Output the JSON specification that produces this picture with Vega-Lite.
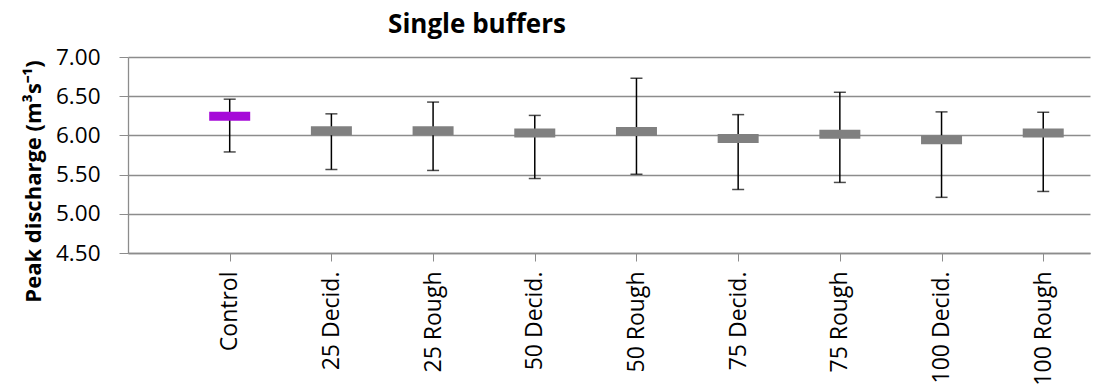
{
  "$schema": "https://vega.github.io/schema/vega-lite/v6.json",
  "autosize": "none",
  "width": 962,
  "height": 196,
  "padding": {"left": 128, "top": 57, "right": 9, "bottom": 132},
  "background": "white",
  "title": {
    "text": "Single buffers",
    "font": "Open Sans",
    "fontSize": 26,
    "fontWeight": "bold",
    "color": "black",
    "anchor": "middle",
    "dx": -132,
    "offset": 8
  },
  "data": {
    "values": [
      {"treatment": "Control", "mean": 6.245, "low": 5.789, "high": 6.462},
      {"treatment": "25 Decid.", "mean": 6.06, "low": 5.565, "high": 6.275},
      {"treatment": "25 Rough", "mean": 6.06, "low": 5.553, "high": 6.425},
      {"treatment": "50 Decid.", "mean": 6.03, "low": 5.45, "high": 6.255},
      {"treatment": "50 Rough", "mean": 6.05, "low": 5.505, "high": 6.73},
      {"treatment": "75 Decid.", "mean": 5.96, "low": 5.31, "high": 6.265},
      {"treatment": "75 Rough", "mean": 6.015, "low": 5.4, "high": 6.55},
      {"treatment": "100 Decid.", "mean": 5.945, "low": 5.21, "high": 6.3},
      {"treatment": "100 Rough", "mean": 6.03, "low": 5.285, "high": 6.295}
    ]
  },
  "encoding": {
    "x": {
      "field": "treatment",
      "type": "nominal",
      "sort": null,
      "scale": {"type": "point", "padding": 0.73, "align": 0.685},
      "axis": {
        "title": null,
        "labelAngle": -90,
        "labelAlign": "right",
        "labelBaseline": "middle",
        "labelFont": "Open Sans",
        "labelFontSize": 23,
        "labelColor": "black",
        "labelPadding": 10,
        "labelOverlap": false,
        "tickSize": 8,
        "tickColor": "#8c8c8c",
        "domainColor": "#8c8c8c",
        "domainWidth": 1.3,
        "grid": false
      }
    },
    "y": {
      "field": "low",
      "type": "quantitative",
      "scale": {"domain": [4.5, 7], "zero": false, "nice": false},
      "axis": {
        "title": "Peak discharge (m³s⁻¹)",
        "titleFont": "Open Sans",
        "titleFontSize": 22,
        "titleFontWeight": "bold",
        "titleColor": "black",
        "titleY": 124,
        "titlePadding": 10,
        "tickCount": 6,
        "format": ".2f",
        "labelOverlap": false,
        "labelFlush": false,
        "labelFont": "Open Sans",
        "labelFontSize": 22.5,
        "labelColor": "black",
        "labelPadding": 19,
        "tickSize": 9,
        "tickColor": "#8c8c8c",
        "domainColor": "#8c8c8c",
        "domainWidth": 1.3,
        "grid": true,
        "gridColor": "#8c8c8c",
        "gridWidth": 1.3
      }
    }
  },
  "layer": [
    {
      "mark": {"type": "rule", "color": "black", "strokeWidth": 1.5},
      "encoding": {
        "y2": {"field": "high"}
      }
    },
    {
      "mark": {"type": "tick", "color": "black", "size": 12, "thickness": 1.5},
      "encoding": {}
    },
    {
      "mark": {"type": "tick", "color": "black", "size": 12, "thickness": 1.5},
      "encoding": {"y": {"field": "high", "type": "quantitative"}}
    },
    {
      "mark": {"type": "tick", "size": 41, "thickness": 9, "opacity": 1},
      "encoding": {
        "y": {"field": "mean", "type": "quantitative"},
        "color": {
          "field": "treatment",
          "type": "nominal",
          "scale": {
            "domain": ["Control", "25 Decid.", "25 Rough", "50 Decid.", "50 Rough", "75 Decid.", "75 Rough", "100 Decid.", "100 Rough"],
            "range": ["#a60ad8", "#808080", "#808080", "#808080", "#808080", "#808080", "#808080", "#808080", "#808080"]
          },
          "legend": null
        }
      }
    }
  ],
  "config": {
    "view": {"stroke": null}
  }
}
